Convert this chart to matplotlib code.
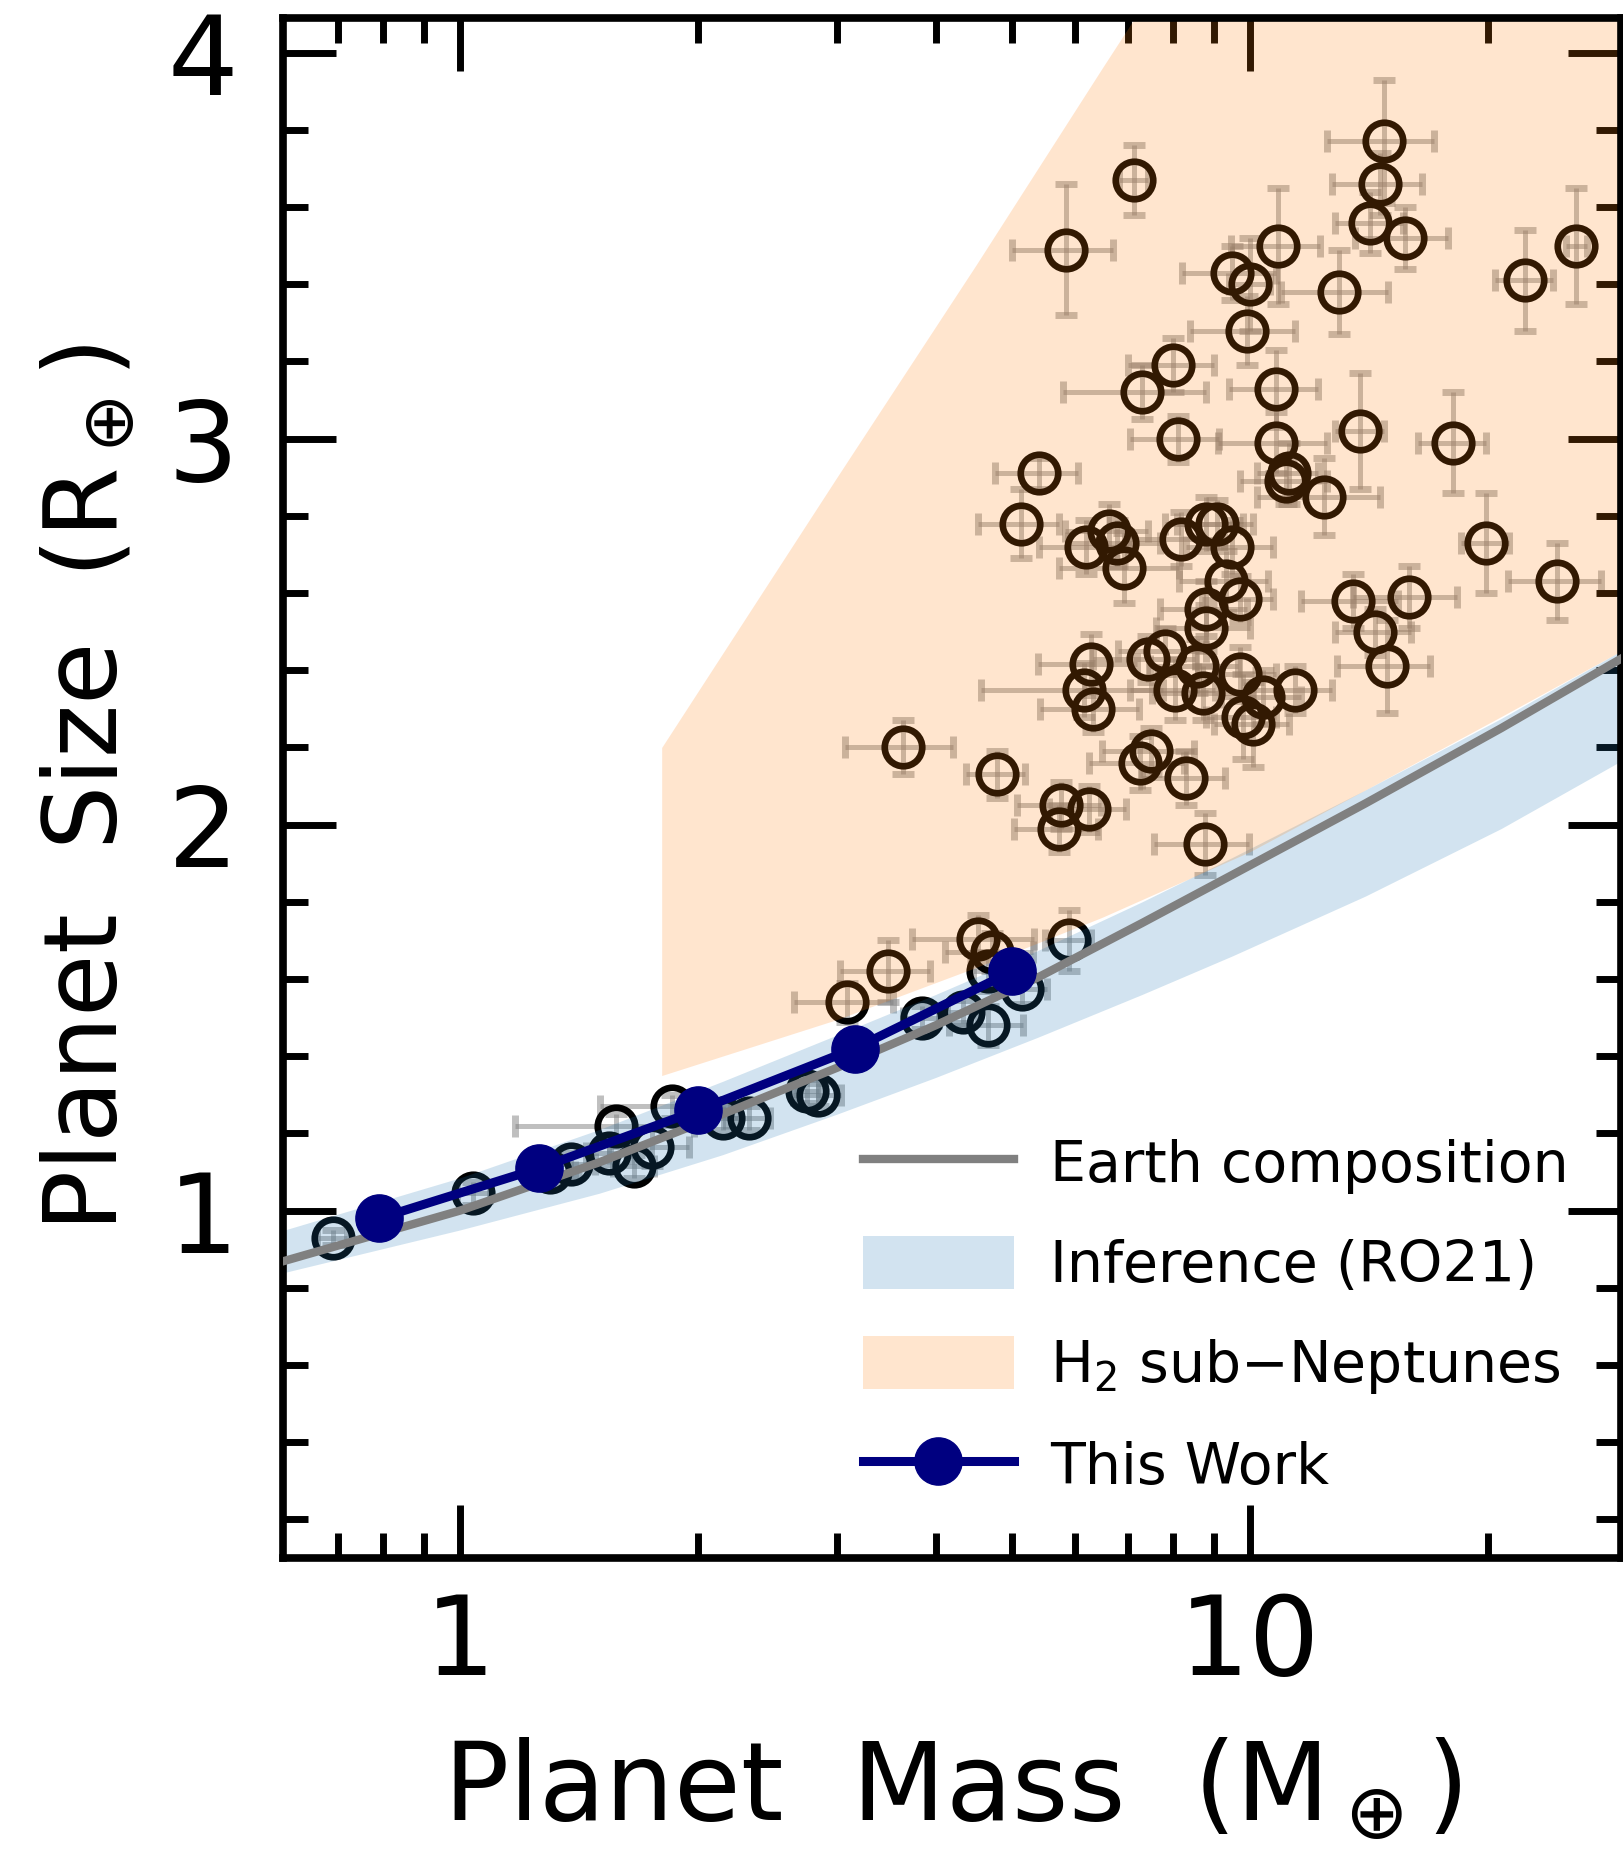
import matplotlib
matplotlib.use("Agg")
import matplotlib.pyplot as plt
from matplotlib.lines import Line2D
from matplotlib.patches import Patch
from matplotlib.ticker import FixedLocator, FixedFormatter, NullFormatter

# literature planets: mass (M_earth), radius (R_earth) and 1-sigma errors
planet_mass = [7.13, 5.85, 14.8, 14.6, 14.2, 15.7, 10.85, 25.9, 22.3, 9.5,
               10.0, 12.95, 9.9, 8.0, 7.3, 10.8, 8.1, 10.8, 11.2, 11.1,
               13.8, 18.1, 12.4, 5.4, 5.13, 19.9, 24.5, 6.63, 6.79, 6.2,
               6.93, 8.18, 8.8, 9.08, 9.5, 9.33, 9.7, 8.8, 8.8, 13.5,
               15.9, 14.4, 14.9, 11.4, 9.7, 10.4, 9.8, 10.1, 8.57, 7.8,
               7.43, 8.04, 8.72, 6.29, 6.33, 6.17, 7.49, 7.26, 8.3, 8.77,
               5.77, 5.73, 6.26, 3.64, 4.78, 4.53, 4.71, 3.48, 3.09, 5.9,
               0.69, 1.04, 1.30, 1.38, 1.575, 1.545, 1.66, 1.75, 1.855, 2.15,
               2.32, 2.84, 2.75, 3.84, 4.33, 4.66, 4.66, 5.14]
planet_mass_err = [0.3, 0.85, 2.3, 1.9, 1.4, 2.1, 1.4, 0.8, 1.9, 1.3,
                   0.6, 2.0, 1.5, 1.0, 1.5, 1.4, 1.05, 1.7, 1.0, 1.4,
                   1.0, 1.8, 2.2, 0.65, 0.6, 1.4, 3.3, 0.8, 0.9, 0.8,
                   1.2, 1.1, 1.0, 1.0, 1.2, 1.2, 1.0, 1.1, 1.2, 1.9,
                   2.4, 1.6, 2.0, 1.3, 1.1, 1.2, 1.0, 1.1, 1.1, 1.0,
                   1.1, 1.0, 1.2, 0.9, 0.9, 1.6, 1.0, 1.0, 1.0, 1.2,
                   0.7, 0.7, 0.7, 0.57, 0.41, 0.8, 0.6, 0.45, 0.44, 0.4,
                   0.03, 0.05, 0.1, 0.1, 0.4, 0.1, 0.1, 0.2, 0.35, 0.1,
                   0.15, 0.2, 0.1, 0.2, 0.2, 0.5, 0.2, 0.4]
planet_radius = [3.67, 3.49, 3.77, 3.66, 3.56, 3.52, 3.50, 3.50, 3.41, 3.43,
                 3.40, 3.38, 3.28, 3.19, 3.12, 3.13, 3.00, 2.99, 2.91, 2.89,
                 3.02, 2.99, 2.85, 2.91, 2.78, 2.73, 2.63, 2.76, 2.73, 2.72,
                 2.665, 2.74, 2.78, 2.78, 2.72, 2.63, 2.585, 2.56, 2.51, 2.58,
                 2.59, 2.50, 2.41, 2.35, 2.39, 2.33, 2.28, 2.26, 2.41, 2.45,
                 2.43, 2.35, 2.34, 2.415, 2.30, 2.35, 2.19, 2.16, 2.12, 1.95,
                 2.05, 1.99, 2.04, 2.20, 2.13, 1.705, 1.67, 1.62, 1.54, 1.70,
                 0.93, 1.045, 1.10, 1.12, 1.22, 1.15, 1.115, 1.165, 1.27, 1.24,
                 1.24, 1.30, 1.31, 1.50, 1.515, 1.48, 1.62, 1.575]
planet_radius_err = [0.09, 0.17, 0.16, 0.08, 0.08, 0.08, 0.15, 0.15, 0.13, 0.07,
                     0.12, 0.11, 0.09, 0.07, 0.07, 0.10, 0.06, 0.08, 0.08, 0.06,
                     0.15, 0.13, 0.10, 0.04, 0.09, 0.13, 0.10, 0.07, 0.06, 0.07,
                     0.09, 0.07, 0.07, 0.06, 0.07, 0.08, 0.06, 0.07, 0.06, 0.07,
                     0.08, 0.06, 0.12, 0.06, 0.07, 0.07, 0.11, 0.11, 0.07, 0.06,
                     0.06, 0.08, 0.07, 0.08, 0.06, 0.07, 0.06, 0.07, 0.07, 0.08,
                     0.06, 0.06, 0.06, 0.07, 0.06, 0.06, 0.05, 0.08, 0.05, 0.08,
                     0.02, 0.03, 0.03, 0.03, 0.03, 0.03, 0.03, 0.05, 0.03, 0.03,
                     0.03, 0.03, 0.03, 0.03, 0.03, 0.05, 0.05, 0.04]

# Earth-like composition curve and RO21 inference band
earth_mass = [0.6, 1.0, 1.5, 2.15, 3.0, 4.0, 5.4, 7.3, 9.5, 14.0, 20.8, 29.5]
earth_radius = [0.87, 1.0, 1.125, 1.25, 1.37, 1.48, 1.605, 1.745, 1.87, 2.055, 2.25, 2.43]
band_upper = [0.95, 1.085, 1.21, 1.335, 1.455, 1.56, 1.675, 1.80, 1.915, 2.09, 2.275, 2.45]
band_lower = [0.84, 0.95, 1.045, 1.145, 1.25, 1.345, 1.45, 1.56, 1.66, 1.815, 1.99, 2.165]

# H2 sub-Neptune region
subnep_mass = [1.8, 3.0, 4.5, 6.5, 10.0, 14.0, 20.8, 29.5]
subnep_lower = [1.35, 1.495, 1.63, 1.76, 1.93, 2.09, 2.28, 2.45]
subnep_upper = [2.2, 2.90, 3.45, 3.96, 4.55, 5.01, 5.55, 6.03]

# this work
work_mass = [0.79, 1.26, 2.0, 3.16, 5.0]
work_radius = [0.98, 1.11, 1.26, 1.42, 1.62]

fig = plt.figure(figsize=(16.24, 18.53), dpi=100)
ax = fig.add_axes([0.1743, 0.1592, 0.8239, 0.8311])

# points sit under the translucent bands, which tint them
ax.errorbar(planet_mass, planet_radius, xerr=planet_mass_err, yerr=planet_radius_err,
            fmt='none', ecolor='gray', alpha=0.5, elinewidth=3.6, capsize=8, capthick=5,
            zorder=1)
ax.plot(planet_mass, planet_radius, 'o', ls='none', mfc='none', mec='black',
        ms=27, mew=4.8, zorder=1.5)

ax.fill_between(earth_mass, band_lower, band_upper, color='tab:blue',
                alpha=0.2, lw=0, zorder=2)
ax.fill_between(subnep_mass, subnep_lower, subnep_upper, color='tab:orange',
                alpha=0.2, lw=0, zorder=2)

ax.plot(earth_mass, earth_radius, color='gray', lw=6, zorder=3)
ax.plot(work_mass, work_radius, color='navy', lw=6.5, marker='o', ms=34, zorder=4)

ax.set_xscale('log')
ax.set_xlim(0.597, 29.5)
ax.set_ylim(0.1, 4.09)

ax.xaxis.set_major_locator(FixedLocator([1, 10]))
ax.xaxis.set_major_formatter(FixedFormatter(['1', '10']))
ax.xaxis.set_minor_locator(FixedLocator([0.7, 0.8, 0.9, 2, 3, 4, 5, 6, 7, 8, 9, 20]))
ax.xaxis.set_minor_formatter(NullFormatter())
ax.yaxis.set_major_locator(FixedLocator([1, 2, 3, 4]))
ax.yaxis.set_minor_locator(FixedLocator([0.2, 0.4, 0.6, 0.8, 1.2, 1.4, 1.6, 1.8,
                                         2.2, 2.4, 2.6, 2.8, 3.2, 3.4, 3.6, 3.8]))

ax.tick_params(which='both', direction='in', top=True, right=True, width=5)
ax.tick_params(which='major', length=38, labelsize=80)
ax.tick_params(which='minor', length=18)
ax.tick_params(axis='x', which='major', pad=24)
ax.tick_params(axis='y', which='major', pad=32)
for s in ax.spines.values():
    s.set_linewidth(5.5)

ax.set_xlabel('Planet  Mass  (M$_\\oplus$)', fontsize=78)
ax.xaxis.label.set_va('baseline')
ax.xaxis.set_label_coords(0.5, -0.170)
ax.set_ylabel('Planet  Size  (R$_\\oplus$)', fontsize=73)
ax.yaxis.label.set_va('baseline')
ax.yaxis.set_label_coords(-0.124, 0.5)

handles = [
    Line2D([], [], color='gray', lw=6),
    Patch(facecolor='tab:blue', alpha=0.2, lw=0),
    Patch(facecolor='tab:orange', alpha=0.2, lw=0),
    Line2D([], [], color='navy', lw=6.5, marker='o', ms=34),
]
labels = ['Earth composition', 'Inference (RO21)', 'H$_2$ sub\u2212Neptunes', 'This Work']
fig.legend(handles, labels, loc='upper left', bbox_to_anchor=(0.5314, 0.387),
           frameon=False, fontsize=41, borderpad=0, borderaxespad=0,
           handlelength=2.65, handleheight=1.05, handletextpad=0.63,
           labelspacing=0.74, numpoints=1)

fig.savefig('out.png', dpi=100)
